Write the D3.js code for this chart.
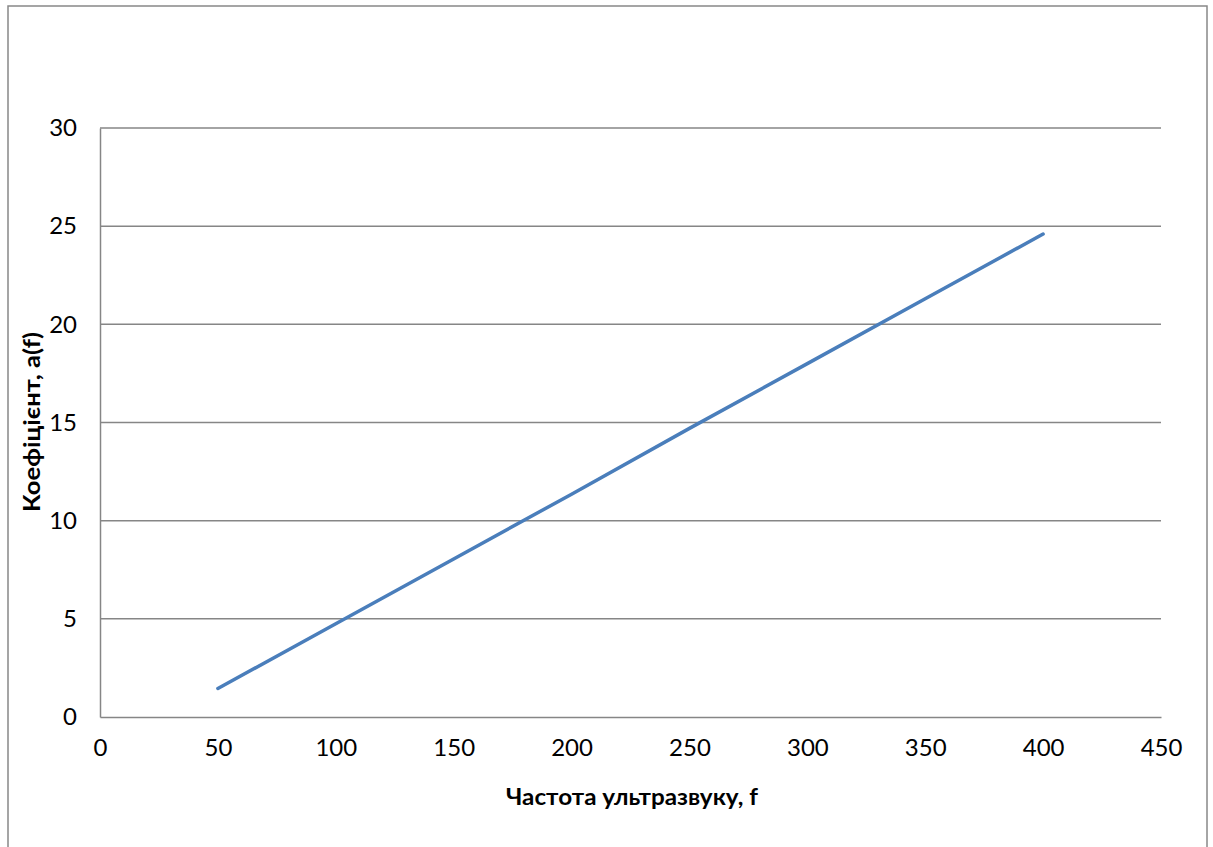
<!DOCTYPE html>
<html><head><meta charset="utf-8">
<script src="https://cdn.jsdelivr.net/npm/d3@7"></script>
<style>
html,body{margin:0;padding:0;background:#fff;}
svg{display:block;}
text{font-family:Lato,"Open Sans",sans-serif;fill:#000;}
</style></head>
<body>
<svg id="chart" width="1213" height="847"></svg>
<script>
const frequencies = [50, 100, 150, 200, 250, 300, 350, 400];
const coefficients = [1.45, 4.75, 8.05, 11.35, 14.7, 18.0, 21.3, 24.6];
const xTicks = [0, 50, 100, 150, 200, 250, 300, 350, 400, 450];
const yTicks = [0, 5, 10, 15, 20, 25, 30];
const xTitle = "Частота ультразвуку, f";
const yTitle = "Коефіцієнт, a(f)";

const svg = d3.select("#chart");
const W = 1213, H = 847;
const plot = {left: 100, top: 128, right: 1161, bottom: 717};

// outer chart border
svg.append("rect").attr("x", 8).attr("y", 6).attr("width", 1199).attr("height", 850)
  .attr("fill", "#fff").attr("stroke", "#888").attr("stroke-width", 1.5);

const x = d3.scaleLinear().domain([0, 450]).range([plot.left, plot.right]);
const y = d3.scaleLinear().domain([0, 30]).range([plot.bottom, plot.top]);

// gridlines
svg.append("g").selectAll("line").data(yTicks.filter(d => d > 0)).join("line")
  .attr("x1", plot.left).attr("x2", plot.right)
  .attr("y1", d => y(d)).attr("y2", d => y(d))
  .attr("stroke", "#868686").attr("stroke-width", 1.5);

// axes
const xAxis = svg.append("g").attr("transform", `translate(0,${plot.bottom})`)
  .call(d3.axisBottom(x).tickValues(xTicks).tickSize(0).tickPadding(22).tickFormat(d3.format("d")));
const yAxis = svg.append("g").attr("transform", `translate(${plot.left},0)`)
  .call(d3.axisLeft(y).tickValues(yTicks).tickSize(0).tickPadding(23).tickFormat(d3.format("d")));
[xAxis, yAxis].forEach(a => {
  a.select(".domain").attr("stroke", "#868686").attr("stroke-width", 1.5);
  a.selectAll("text").attr("font-family", "Lato, sans-serif").attr("font-size", 24).attr("fill", "#000");
});
xAxis.selectAll("text").attr("dy", "0.71em");

// line
const line = d3.line().x((d, i) => x(frequencies[i])).y(d => y(d));
svg.append("path").datum(coefficients).attr("d", line)
  .attr("fill", "none").attr("stroke", "#4a7ebb").attr("stroke-width", 3.5)
  .attr("stroke-linecap", "round").attr("stroke-linejoin", "round");

// titles
svg.append("text").attr("x", 632).attr("y", 805).attr("text-anchor", "middle")
  .attr("font-size", 22).attr("font-weight", "bold")
  .attr("textLength", 252).attr("lengthAdjust", "spacingAndGlyphs").text(xTitle);
svg.append("text").attr("transform", "translate(40,422) rotate(-90)").attr("text-anchor", "middle")
  .attr("font-size", 22).attr("font-weight", "bold")
  .attr("textLength", 180).attr("lengthAdjust", "spacingAndGlyphs").text(yTitle);
</script>
</body></html>
